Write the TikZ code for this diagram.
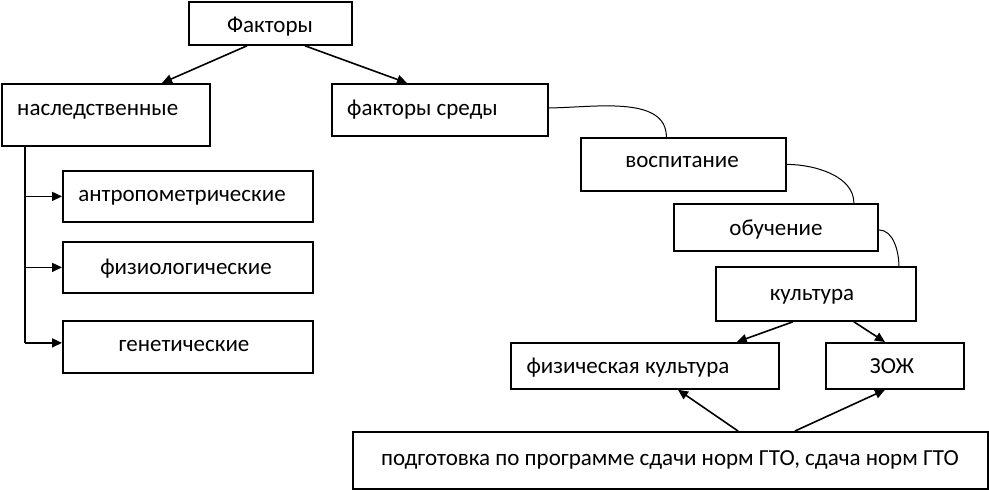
\documentclass[tikz,border=0pt]{standalone}
\usepackage{fontspec}
\setmainfont{Carlito}
\usetikzlibrary{arrows.meta}
\begin{document}
\begin{tikzpicture}[x=1pt,y=-1pt,
  box/.style={draw, line width=1.8pt, inner sep=0pt, anchor=north west},
  lbl/.style={inner sep=0pt, font=\fontsize{23}{27}\selectfont},
  arr/.style={line width=1.6pt, -{Triangle[length=10pt,width=9pt]}},
  arc/.style={line width=1pt}]
\useasboundingbox (0,0) rectangle (989,490);
% boxes
\node[box, minimum width=163pt, minimum height=43pt] (fak) at (188,1) {};
\node[box, minimum width=208pt, minimum height=62pt] (nasl) at (1,83) {};
\node[box, minimum width=216pt, minimum height=52pt] (fs) at (331,83) {};
\node[box, minimum width=205pt, minimum height=53pt] (vos) at (580,137) {};
\node[box, minimum width=204pt, minimum height=47pt] (obu) at (673,203) {};
\node[box, minimum width=200pt, minimum height=54pt] (kul) at (715,266) {};
\node[box, minimum width=250pt, minimum height=51pt] (ant) at (62,170) {};
\node[box, minimum width=250pt, minimum height=51pt] (fiz) at (62,241) {};
\node[box, minimum width=250pt, minimum height=52pt] (gen) at (62,320) {};
\node[box, minimum width=268pt, minimum height=46pt] (fk) at (510,342) {};
\node[box, minimum width=138pt, minimum height=46pt] (zoj) at (825,342) {};
\node[box, minimum width=635pt, minimum height=57pt] (gto) at (352,431) {};
% labels
\node[lbl, anchor=mid] (tfak) at (270,30) {Факторы};
\node[lbl, anchor=mid west] (tnasl) at (17,113) {наследственные};
\node[lbl, anchor=mid west] (tfs) at (347,113) {факторы среды};
\node[lbl, anchor=mid] (tvos) at (682,165) {воспитание};
\node[lbl, anchor=mid] (tobu) at (776,233) {обучение};
\node[lbl, anchor=mid] (tkul) at (812,298) {культура};
\node[lbl, anchor=mid] (tant) at (182,199) {антропометрические};
\node[lbl, anchor=mid] (tfiz) at (186,272) {физиологические};
\node[lbl, anchor=mid] (tgen) at (184,349) {генетические};
\node[lbl, anchor=mid] (tfk) at (628,371) {физическая культура};
\node[lbl, anchor=mid] (tzoj) at (892,371) {ЗОЖ};
\node[lbl, anchor=mid] (tgto) at (670,463) {подготовка по программе сдачи норм ГТО, сдача норм ГТО};
% top arrows
\draw[arr] ([xshift=59pt]fak.south west) -- ([xshift=161pt]nasl.north west);
\draw[arr] ([xshift=117pt]fak.south west) -- ([xshift=76pt]fs.north west);
% left tree
\coordinate (tr) at ([xshift=24pt]nasl.south west);
\draw[line width=1.8pt] (tr) -- ([yshift=4pt]tr |- gen.west);
\draw[arr] (tr |- ant.west) -- (ant.west);
\draw[arr] (tr |- fiz.west) -- (fiz.west);
\draw[arr] ([yshift=4pt]tr |- gen.west) -- ([yshift=4pt]gen.west);
% curves
\draw[arc] ([yshift=2pt]fs.east) to[out=0,in=90,looseness=0.9] ([xshift=-17pt]vos.north);
\draw[arc] (vos.east) to[out=0,in=90,looseness=0.9] ([xshift=78pt]obu.north);
\draw[arc] ([yshift=-2.5pt]obu.east) to[out=0,in=90,looseness=0.9] ([xshift=83pt]kul.north);
% bottom arrows
\draw[arr] ([xshift=-23pt]kul.south) -- ([xshift=-43pt]fk.north east);
\draw[arr] ([xshift=38pt]kul.south) -- ([xshift=60pt]zoj.north west);
\draw[arr] ([xshift=386pt]gto.north west) -- ([xshift=168pt]fk.south west);
\draw[arr] ([xshift=443pt]gto.north west) -- ([xshift=60pt]zoj.south west);
\end{tikzpicture}
\end{document}
